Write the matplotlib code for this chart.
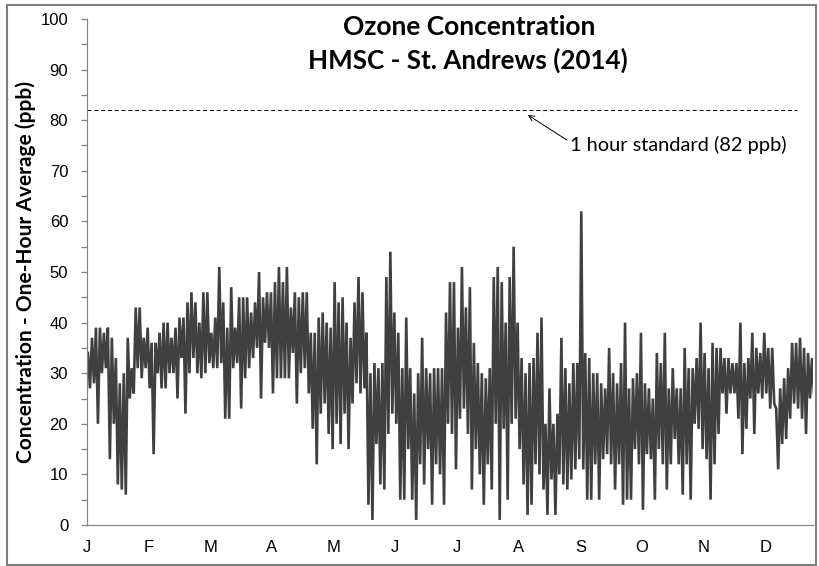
import matplotlib
matplotlib.use("Agg")
import matplotlib.pyplot as plt
from matplotlib.patches import Rectangle
from matplotlib.ticker import MultipleLocator

# ---- data (2-day steps through 2014) ----
daily_high = [34, 37, 39, 39, 38, 39, 37, 33, 28, 30, 37, 31, 43, 43, 37, 39, 36, 36, 38, 40,
              40, 37, 39, 41, 41, 44, 46, 44, 40, 46, 46, 38, 41, 51, 44, 39, 47, 39, 45, 45,
              45, 42, 44, 50, 45, 46, 46, 48, 51, 48, 51, 43, 46, 45, 46, 46, 38, 38, 41, 42,
              40, 39, 48, 44, 45, 40, 37, 44, 49, 46, 38, 30, 32, 31, 32, 49, 54, 42, 38, 31,
              41, 31, 26, 30, 37, 31, 30, 31, 31, 31, 42, 48, 48, 39, 51, 43, 47, 36, 32, 30,
              29, 31, 49, 51, 48, 40, 49, 55, 40, 33, 30, 32, 33, 38, 41, 20, 27, 20, 22, 37,
              31, 28, 32, 32, 62, 34, 33, 30, 30, 28, 27, 35, 30, 28, 32, 40, 27, 29, 30, 38,
              28, 27, 25, 34, 32, 38, 27, 31, 27, 27, 35, 31, 31, 33, 40, 34, 31, 36, 35, 35,
              33, 33, 32, 32, 40, 32, 33, 38, 35, 34, 38, 35, 35, 23, 27, 29, 31, 36, 36, 37,
              35, 34, 33]
daily_low = [27, 28, 20, 30, 31, 13, 20, 8, 7, 6, 25, 26, 31, 29, 31, 27, 14, 30, 27, 27,
             30, 30, 25, 33, 22, 30, 33, 30, 29, 30, 32, 31, 31, 32, 21, 21, 31, 32, 23, 29,
             31, 33, 35, 25, 36, 35, 26, 29, 29, 29, 29, 34, 24, 30, 31, 26, 19, 12, 22, 24,
             18, 15, 20, 16, 22, 15, 24, 28, 26, 27, 4, 1, 16, 8, 7, 18, 22, 20, 5, 5,
             15, 5, 1, 12, 8, 15, 4, 12, 10, 4, 20, 18, 11, 21, 23, 18, 7, 15, 10, 4,
             12, 7, 20, 1, 19, 5, 20, 21, 15, 8, 2, 4, 12, 10, 7, 2, 9, 2, 10, 8,
             7, 9, 11, 13, 11, 5, 5, 12, 5, 13, 14, 12, 7, 12, 4, 5, 5, 15, 12, 3,
             14, 13, 5, 15, 12, 7, 12, 17, 12, 6, 12, 5, 20, 19, 15, 13, 5, 12, 18, 26,
             22, 26, 26, 21, 14, 19, 25, 18, 26, 25, 26, 23, 24, 11, 16, 17, 21, 24, 23, 21,
             18, 25, 26]
month_labels = ["J", "F", "M", "A", "M", "J", "J", "A", "S", "O", "N", "D"]
standard_ppb = 82
standard_text = "1 hour standard (82 ppb)"
title_lines = ["Ozone Concentration", "HMSC - St. Andrews (2014)"]
y_label = "Concentration - One-Hour Average (ppb)"

# build the hourly-position series (hours since Jan 1)
hours, values = [], []
for k, (h, l) in enumerate(zip(daily_high, daily_low)):
    hours += [(2 * k + 0.5) * 24, (2 * k + 1.5) * 24]
    values += [h, l]

W, H = 820, 566
fig = plt.figure(figsize=(W / 100, H / 100), dpi=100)
fig.patch.set_facecolor("white")

# chart border
fig.patches.append(Rectangle((7 / W, 1 - 565 / H), (816 - 7) / W, (565 - 5) / H,
                             transform=fig.transFigure, fill=False,
                             edgecolor="#7f7f7f", linewidth=1.5))

ax = fig.add_axes([87 / W, 1 - 525 / H, (813 - 87) / W, (525 - 19) / H])
ax.set_xlim(0, 8760)
ax.set_ylim(0, 100)

ax.plot(hours, values, color="#404040", linewidth=1.9, solid_joinstyle="miter")
ax.plot([0, 8565], [standard_ppb, standard_ppb], color="black", linewidth=0.72,
        linestyle=(0, (4, 2.8)))

for s in ["top", "right"]:
    ax.spines[s].set_visible(False)
for s in ["left", "bottom"]:
    ax.spines[s].set_color("#868686")
    ax.spines[s].set_linewidth(0.9)

tickfont = "Liberation Sans"
ax.yaxis.set_major_locator(MultipleLocator(10))
ax.yaxis.set_minor_locator(MultipleLocator(5))
ax.tick_params(axis="y", which="both", direction="out", length=4, width=0.9,
               color="#868686", pad=9.5)
ax.set_xticks([i * 744 for i in range(12)])
ax.set_xticklabels(month_labels)
ax.tick_params(axis="x", length=0, pad=11)
for lab in ax.get_xticklabels() + ax.get_yticklabels():
    lab.set_fontfamily(tickfont)
    lab.set_fontsize(12)

calib = "Lato"
t1 = fig.text(469 / W, 1 - 27 / H, title_lines[0], ha="center", va="center",
              fontsize=13, fontweight="bold", family=calib)
t2 = fig.text(468 / W, 1 - 60 / H, title_lines[1], ha="center", va="center",
              fontsize=13, fontweight="bold", family=calib)
yl = fig.text(26 / W, 1 - 272 / H, y_label, ha="center", va="center", rotation=90,
              fontsize=12, fontweight="bold", family=calib)
at = fig.text(570 / W, 1 - 145 / H, standard_text, ha="left", va="center",
              fontsize=10, family=calib)

ax.annotate("", xy=((528 - 87) / 0.0829, (525 - 115) / 5.06),
            xytext=((567 - 87) / 0.0829, (525 - 140) / 5.06),
            arrowprops=dict(arrowstyle="->", color="black", lw=0.7,
                            shrinkA=0, shrinkB=0))

# fit text widths to the reference
fig.canvas.draw()
r = fig.canvas.get_renderer()
for t, target, horiz in [(t1, 252, True), (t2, 319, True), (yl, 379, False), (at, 218, True)]:
    bb = t.get_window_extent(renderer=r)
    size = bb.width if horiz else bb.height
    t.set_fontsize(t.get_fontsize() * target / size)

fig.savefig("out.png", dpi=100, facecolor="white")
